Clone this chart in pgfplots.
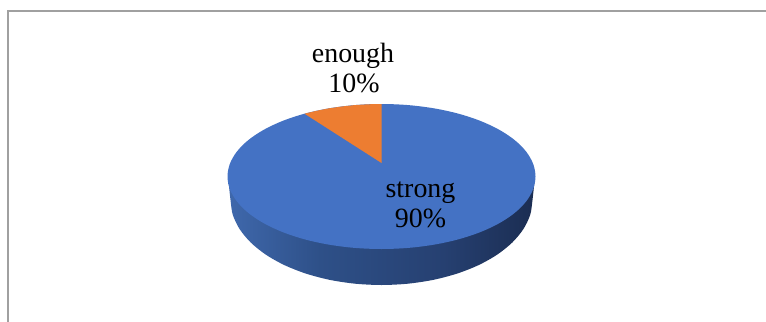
\documentclass[border=0pt]{standalone}
\usepackage{fontspec}
\setmainfont{Liberation Serif}
\usepackage{pgfplots}
\pgfplotsset{compat=1.18}
\definecolor{strongblue}{HTML}{4472C4}
\definecolor{enoughorange}{HTML}{ED7D31}
\definecolor{framegray}{HTML}{A0A0A0}
\definecolor{rimA}{HTML}{3F68AC}
\definecolor{rimB}{HTML}{2E5088}
\definecolor{rimC}{HTML}{264071}
\definecolor{rimD}{HTML}{1B2D52}
\definecolor{rimE}{HTML}{1A2C50}
% Horizontal falloff of light on the rim of the disc
\pgfdeclarehorizontalshading{rimshade}{100bp}{
  color(0bp)=(rimA);
  color(25bp)=(rimA);
  color(40bp)=(rimB);
  color(60bp)=(rimC);
  color(75bp)=(rimD);
  color(100bp)=(rimE)}
\newcommand{\labelfont}{\fontsize{28}{30}\selectfont}
\begin{document}
\begin{tikzpicture}
\begin{axis}[
  width=766bp, height=322bp, scale only axis,
  xmin=0, xmax=766, ymin=0, ymax=322, y dir=reverse,
  hide axis, clip=true]
% White page background
\addplot[draw=none, fill=white] coordinates {(0,0) (766,0) (766,322) (0,322)} --cycle;
% Outer frame of the chart area
\addplot[framegray, line width=2bp] coordinates {(7.5,322) (7.5,11.5) (766,11.5)};
% Rim of the disc
\addplot[draw=none, shading=rimshade, smooth, tension=0.5] coordinates {
  (228,176.5) (230.5,200) (232.79,214.76) (239.61,229.07) (250.73,242.5) (265.83,254.64)
  (284.44,265.11) (306,273.61) (329.86,279.88) (355.28,283.71) (381.5,285)
  (407.72,283.71) (433.14,279.88) (457,273.61) (478.56,265.11) (497.17,254.64)
  (512.27,242.5) (523.39,229.07) (530.21,214.76) (532.5,200) (535,176.5)} --cycle;
% Top face: strong, 90%
\addplot[draw=none, fill=strongblue, smooth cycle, tension=0.55] coordinates {
  (535.5,176.5) (533.16,163.91) (526.21,151.70) (514.87,140.25) (499.47,129.90)
  (480.49,120.96) (458.5,113.71) (434.17,108.37) (408.24,105.10) (381.5,104)
  (354.76,105.10) (328.83,108.37) (304.5,113.71) (282.51,120.96) (263.53,129.90)
  (248.13,140.25) (236.79,151.70) (229.84,163.91) (227.5,176.5)
  (229.84,189.09) (236.79,201.30) (248.13,212.75) (263.53,223.10) (282.51,232.04)
  (304.5,239.29) (328.83,244.63) (354.76,247.90) (381.5,249)
  (408.24,247.90) (434.17,244.63) (458.5,239.29) (480.49,232.04) (499.47,223.10)
  (514.87,212.75) (526.21,201.30) (533.16,189.09)};
% Top face: enough, 10%
\addplot[draw=none, fill=enoughorange] coordinates {
  (381.5,163) (381.5,104) (368.1,104.3) (354.76,105.10) (341.7,106.5) (328.83,108.37)
  (316.5,110.8) (304.5,113.71)} --cycle;
% Slice labels
\node[anchor=base, font=\labelfont, text=black] at (axis cs:353,62) {enough};
\node[anchor=base, font=\labelfont, text=black] at (axis cs:354,92) {10\%};
\node[anchor=base, font=\labelfont, text=black] at (axis cs:420.5,197) {strong};
\node[anchor=base, font=\labelfont, text=black] at (axis cs:420.5,227) {90\%};
\end{axis}
\end{tikzpicture}
\end{document}
